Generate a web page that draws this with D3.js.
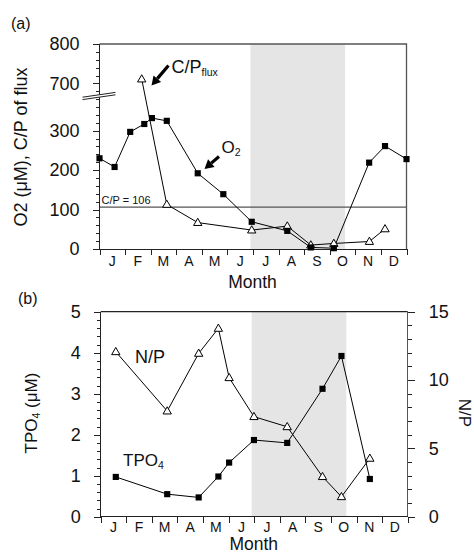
<!DOCTYPE html>
<html lang="en">
<head>
    <meta charset="UTF-8">
    <title>O2, C/P, TPO4, N/P</title>
    <script src="https://cdn.jsdelivr.net/npm/d3@7"></script>
    <style>
        body { margin: 0; background: #fff; }
        svg text { font-family: "Liberation Sans", Arial, Helvetica, sans-serif; fill: #111; }
        .axis path, .axis line { stroke: #222; shape-rendering: crispEdges; }
    </style>
</head>
<body>
<div id="d3"></div>
<script>
    // data
    var months = ["J", "F", "M", "A", "M", "J", "J", "A", "S", "O", "N", "D"];

    // panel (a): x in months from 1 Jan (0) to 31 Dec (12)
    var o2Month = [0, 0.59, 1.2, 1.75, 2.05, 2.63, 3.84, 4.84, 5.95, 7.34, 8.26, 9.16, 10.54, 11.16, 12];
    var o2Value = [230, 208, 297, 317, 332, 325, 192, 139, 69, 46, 4, 2, 219, 261, 228];
    var cpMonth = [1.65, 2.63, 3.84, 5.95, 7.34, 8.26, 9.16, 10.55, 11.16];
    var cpValue = [711, 113, 67, 48, 58, 10, 14, 19, 51];
    var redfield = 106;

    // panel (b)
    var tpMonth = [0.59, 2.6, 3.83, 4.6, 5.02, 5.99, 7.29, 8.67, 9.41, 10.52];
    var tpValue = [0.97, 0.55, 0.47, 0.98, 1.32, 1.87, 1.80, 3.12, 3.92, 0.92];
    var npValue = [12.07, 7.73, 11.95, 13.78, 10.17, 7.32, 6.58, 2.93, 1.46, 4.27];

    // shaded period (months)
    var shade = [5.9, 9.6];

    var aTicks = [0, 100, 200, 300, 700, 800];
    var bLeftTicks = [0, 1, 2, 3, 4, 5];
    var bRightTicks = [0, 5, 10, 15];

    var width = 474, height = 558;
    var svg = d3.select("#d3").append("svg")
        .attr("width", width)
        .attr("height", height);

    function pairs(xs, ys) {
        return xs.map(function (x, i) { return [x, ys[i]]; });
    }

    // ---------- panel (a) ----------
    var xA = d3.scaleLinear().domain([0, 12]).range([99.5, 406.5]);
    // broken axis: 388..668 collapsed into the break
    var yA = d3.scaleLinear().domain([0, 388, 668, 800]).range([249, 96, 96, 44]);

    var gA = svg.append("g");

    gA.append("rect")
        .attr("x", xA(shade[0]))
        .attr("y", yA(800))
        .attr("width", xA(shade[1]) - xA(shade[0]))
        .attr("height", yA(0) - yA(800))
        .attr("fill", "#e5e5e5");

    // frame top + right
    gA.append("path")
        .attr("d", "M" + xA(0) + "," + yA(800) + "H" + xA(12) + "V" + yA(0))
        .attr("fill", "none")
        .attr("stroke", "#555")
        .attr("stroke-width", 1.3);

    // C/P = 106 line
    gA.append("line")
        .attr("x1", xA(0)).attr("x2", xA(12))
        .attr("y1", yA(redfield)).attr("y2", yA(redfield))
        .attr("stroke", "#555")
        .attr("stroke-width", 1.3);
    gA.append("text")
        .attr("x", xA(0) + 2)
        .attr("y", yA(redfield) - 3)
        .style("font-size", "11px")
        .text("C/P = " + redfield);

    // y axis, minor ticks every 20
    var minorA = d3.range(0, 388, 20).concat(d3.range(680, 801, 20))
        .filter(function (v) { return aTicks.indexOf(v) < 0; });
    gA.append("g")
        .attr("class", "axis")
        .attr("transform", "translate(" + xA(0) + ",0)")
        .call(d3.axisLeft(yA).tickValues(minorA).tickSize(4).tickFormat(""))
        .select(".domain").remove();
    var axA = gA.append("g")
        .attr("class", "axis")
        .attr("transform", "translate(" + xA(0) + ",0)")
        .call(d3.axisLeft(yA).tickValues(aTicks).tickSize(7).tickPadding(13).tickFormat(d3.format("d")));
    axA.select(".domain").attr("d", "M0," + yA(800) + "V" + yA(0));
    axA.selectAll("text").style("font-size", "18px");

    // axis break
    var bx0 = xA(0) - 17, bx1 = xA(0) + 16;
    gA.append("path")
        .attr("d", "M" + bx0 + ",97.2L" + bx1 + ",92.4L" + bx1 + ",94.8L" + bx0 + ",99.6Z")
        .attr("fill", "#fff");
    gA.selectAll(".brk").data([0, 2.4]).enter().append("line")
        .attr("x1", bx0).attr("y1", function (d) { return 97.2 + d; })
        .attr("x2", bx1).attr("y2", function (d) { return 92.4 + d; })
        .attr("stroke", "#222")
        .attr("stroke-width", 1);

    // x axis with month letters between ticks
    function monthAxis(g, x, y0, labelGap, titleGap) {
        var ax = g.append("g")
            .attr("class", "axis")
            .attr("transform", "translate(0," + y0 + ")")
            .call(d3.axisBottom(x).tickValues(d3.range(0, 13)).tickSize(6).tickFormat(""));
        ax.select(".domain").attr("d", "M" + x(0) + ",0H" + x(12));
        g.append("g").selectAll("text")
            .data(months)
            .enter()
            .append("text")
            .attr("x", function (d, i) { return x(i + 0.5); })
            .attr("y", y0 + labelGap)
            .attr("text-anchor", "middle")
            .style("font-size", "14px")
            .text(function (d) { return d; });
        g.append("text")
            .attr("x", x(6) - 0.5)
            .attr("y", y0 + titleGap)
            .attr("text-anchor", "middle")
            .style("font-size", "17.5px")
            .text("Month");
    }
    monthAxis(gA, xA, 249, 17, 39);

    // lines + markers
    var lineA = d3.line()
        .x(function (d) { return xA(d[0]); })
        .y(function (d) { return yA(d[1]); });
    var cp = pairs(cpMonth, cpValue), o2 = pairs(o2Month, o2Value);

    gA.append("path").attr("d", lineA(cp)).attr("fill", "none").attr("stroke", "#000").attr("stroke-width", 1);
    gA.append("path").attr("d", lineA(o2)).attr("fill", "none").attr("stroke", "#000").attr("stroke-width", 1);

    var tri = d3.symbol().type(d3.symbolTriangle).size(30);
    var sq = d3.symbol().type(d3.symbolSquare).size(38);

    gA.selectAll(".cp").data(cp).enter().append("path")
        .attr("transform", function (d) { return "translate(" + xA(d[0]) + "," + (yA(d[1]) + 0.5) + ")"; })
        .attr("d", tri)
        .attr("fill", "#fff").attr("stroke", "#000").attr("stroke-width", 1);
    gA.selectAll(".o2").data(o2).enter().append("path")
        .attr("transform", function (d) { return "translate(" + xA(d[0]) + "," + yA(d[1]) + ")"; })
        .attr("d", sq)
        .attr("fill", "#000");

    // arrows
    function arrow(g, x1, y1, x2, y2) {
        var a = Math.atan2(y2 - y1, x2 - x1), L = 9, W = 5;
        var bx = x2 - L * Math.cos(a), by = y2 - L * Math.sin(a);
        g.append("line")
            .attr("x1", x1).attr("y1", y1).attr("x2", bx).attr("y2", by)
            .attr("stroke", "#000").attr("stroke-width", 3.2);
        g.append("path")
            .attr("d", "M" + x2 + "," + y2 +
                "L" + (bx + W * Math.sin(a)) + "," + (by - W * Math.cos(a)) +
                "L" + (bx - W * Math.sin(a)) + "," + (by + W * Math.cos(a)) + "Z")
            .attr("fill", "#000");
    }
    arrow(gA, 168.5, 65.5, 151.5, 85.5);
    arrow(gA, 219, 156.5, 204.5, 169);

    var cpLab = gA.append("text").attr("x", 171.5).attr("y", 73).style("font-size", "18px");
    cpLab.append("tspan").text("C/P");
    cpLab.append("tspan").attr("dy", 3).style("font-size", "10.5px").text("flux");
    var o2Lab = gA.append("text").attr("x", 221.5).attr("y", 153.3).style("font-size", "17px");
    o2Lab.append("tspan").text("O");
    o2Lab.append("tspan").attr("dy", 3).style("font-size", "10.5px").text("2");

    gA.append("text")
        .attr("transform", "translate(27,147) rotate(-90)")
        .attr("text-anchor", "middle")
        .style("font-size", "18px")
        .text("O2 (\u03bcM), C/P of flux");

    svg.append("text").attr("x", 11).attr("y", 29).style("font-size", "16px").text("(a)");

    // ---------- panel (b) ----------
    var xB = d3.scaleLinear().domain([0, 12]).range([100.7, 407.7]);
    var yB = d3.scaleLinear().domain([0, 5]).range([516.7, 311.7]);
    var yN = d3.scaleLinear().domain([0, 15]).range([516.7, 311.7]);

    var gB = svg.append("g");

    gB.append("rect")
        .attr("x", xB(shade[0]))
        .attr("y", yB(5))
        .attr("width", xB(shade[1]) - xB(shade[0]))
        .attr("height", yB(0) - yB(5))
        .attr("fill", "#e5e5e5");

    gB.append("line")
        .attr("x1", xB(0)).attr("x2", xB(12))
        .attr("y1", yB(5)).attr("y2", yB(5))
        .attr("stroke", "#222").attr("stroke-width", 1.2);

    // left axis
    gB.append("g")
        .attr("class", "axis")
        .attr("transform", "translate(" + xB(0) + ",0)")
        .call(d3.axisLeft(yB).tickValues(d3.range(0, 25).map(function (i) { return i * 0.2; })
            .filter(function (v) { return Math.abs(v - Math.round(v)) > 1e-6; })).tickSize(4).tickFormat(""))
        .select(".domain").remove();
    var axBL = gB.append("g")
        .attr("class", "axis")
        .attr("transform", "translate(" + xB(0) + ",0)")
        .call(d3.axisLeft(yB).tickValues(bLeftTicks).tickSize(7).tickPadding(13).tickFormat(d3.format("d")));
    axBL.select(".domain").attr("d", "M0," + yB(5) + "V" + yB(0));
    axBL.selectAll("text").style("font-size", "18px");

    // right axis
    gB.append("g")
        .attr("class", "axis")
        .attr("transform", "translate(" + xB(12) + ",0)")
        .call(d3.axisRight(yN).tickValues(d3.range(0, 16).filter(function (v) { return v % 5; })).tickSize(4).tickFormat(""))
        .select(".domain").remove();
    var axBR = gB.append("g")
        .attr("class", "axis")
        .attr("transform", "translate(" + xB(12) + ",0)")
        .call(d3.axisRight(yN).tickValues(bRightTicks).tickSize(7).tickPadding(14).tickFormat(d3.format("d")));
    axBR.select(".domain").attr("d", "M0," + yN(15) + "V" + yN(0)).style("stroke", "#555").style("stroke-width", 1.3);
    axBR.selectAll("text").style("font-size", "18px");

    monthAxis(gB, xB, 516.7, 15, 33.3);

    var tp = pairs(tpMonth, tpValue), np = pairs(tpMonth, npValue);
    var lineTP = d3.line().x(function (d) { return xB(d[0]); }).y(function (d) { return yB(d[1]); });
    var lineNP = d3.line().x(function (d) { return xB(d[0]); }).y(function (d) { return yN(d[1]); });

    gB.append("path").attr("d", lineNP(np)).attr("fill", "none").attr("stroke", "#000").attr("stroke-width", 1);
    gB.append("path").attr("d", lineTP(tp)).attr("fill", "none").attr("stroke", "#000").attr("stroke-width", 1);

    gB.selectAll(".np").data(np).enter().append("path")
        .attr("transform", function (d) { return "translate(" + xB(d[0]) + "," + (yN(d[1]) + 0.5) + ")"; })
        .attr("d", tri)
        .attr("fill", "#fff").attr("stroke", "#000").attr("stroke-width", 1);
    gB.selectAll(".tp").data(tp).enter().append("path")
        .attr("transform", function (d) { return "translate(" + xB(d[0]) + "," + yB(d[1]) + ")"; })
        .attr("d", sq)
        .attr("fill", "#000");

    gB.append("text").attr("x", 135).attr("y", 363).style("font-size", "18px").text("N/P");
    var tpLab = gB.append("text").attr("x", 123).attr("y", 466).style("font-size", "17px");
    tpLab.append("tspan").text("TPO");
    tpLab.append("tspan").attr("dy", 3).style("font-size", "10.5px").text("4");

    var yLabB = gB.append("text")
        .attr("transform", "translate(37,413) rotate(-90)")
        .attr("text-anchor", "middle")
        .style("font-size", "17px");
    yLabB.append("tspan").text("TPO");
    yLabB.append("tspan").attr("dy", 3).style("font-size", "10.5px").text("4");
    yLabB.append("tspan").attr("dy", -3).text(" (\u03bcM)");

    gB.append("text")
        .attr("transform", "translate(459,413) rotate(90)")
        .attr("text-anchor", "middle")
        .style("font-size", "17px")
        .text("N/P");

    svg.append("text").attr("x", 18).attr("y", 304).style("font-size", "16px").text("(b)");
</script>
</body>
</html>
